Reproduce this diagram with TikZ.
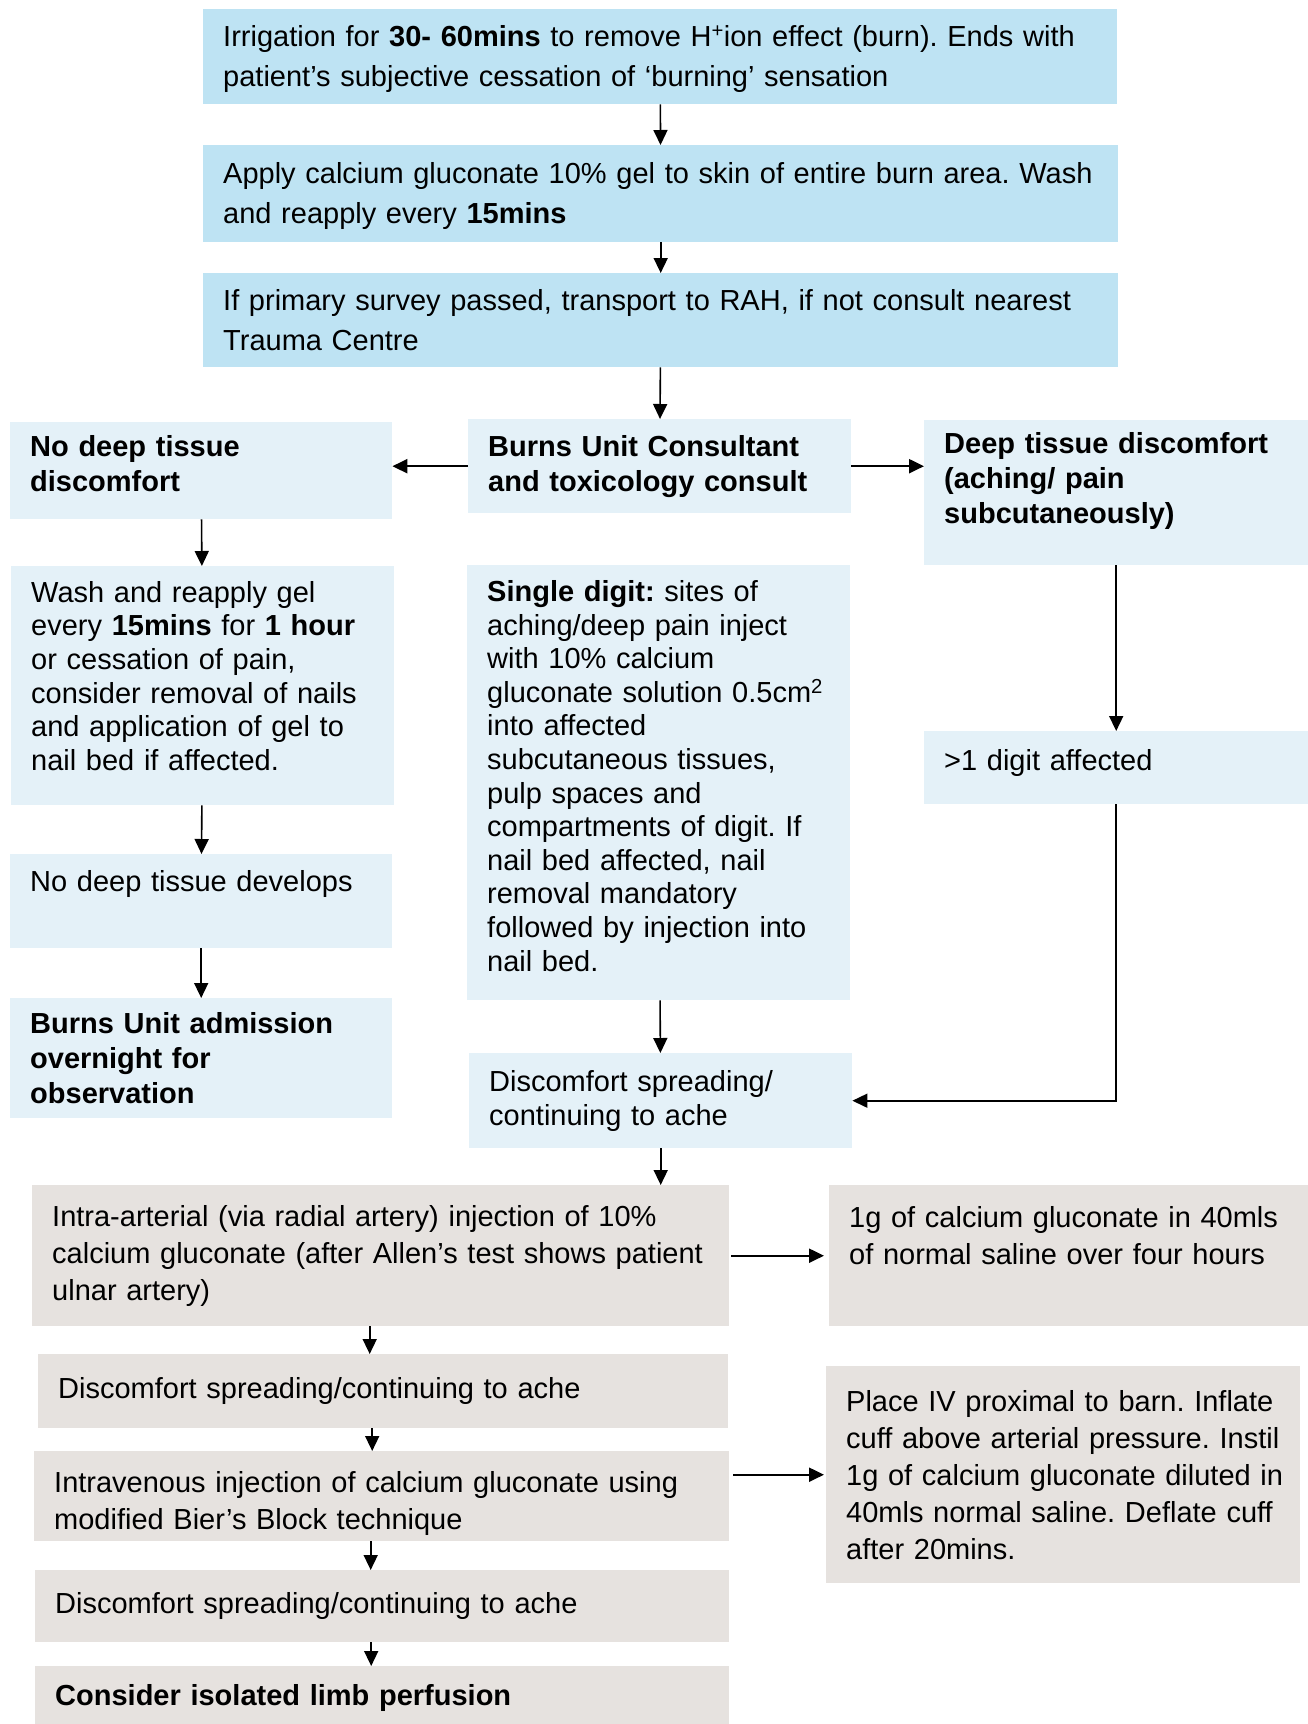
\documentclass[tikz,border=0pt]{standalone}
\usepackage{fontspec}
\setmainfont{Liberation Sans}
\usetikzlibrary{arrows.meta}
\definecolor{topblue}{RGB}{190,227,243}
\definecolor{midblue}{RGB}{228,241,248}
\definecolor{lowgrey}{RGB}{230,226,223}

\begin{document}
\begin{tikzpicture}[x=1pt, y=-1pt,
  box/.style = {anchor=north west, inner xsep=20pt, inner ysep=0pt, align=left,
    execute at begin node={\frenchspacing\hyphenpenalty=10000\rightskip=-40pt plus 1fil}},
  topbox/.style = {box, fill=topblue, font=\fontsize{29}{39.6}\selectfont},
  midbox/.style = {box, fill=midblue, font=\fontsize{29}{33.6}\selectfont},
  headbox/.style = {midbox, font=\fontsize{29}{35.2}\selectfont\bfseries},
  lowbox/.style = {box, fill=lowgrey, font=\fontsize{29}{37}\selectfont},
  arr/.style = {-{Triangle[length=15pt, width=14pt]}, line width=1.6pt},
  thickarr/.style = {arr, line width=2.2pt}]
\useasboundingbox (0,0) rectangle (1308,1724);

% first steps
\node[topbox, text width=874pt, minimum height=95pt] (irrig) at (203,9)
  {\rule{0pt}{26pt}Irrigation for \textbf{30- 60mins} to remove H\textsuperscript{+}ion effect (burn). Ends with\\
   patient’s subjective cessation of ‘burning’ sensation};
\node[topbox, text width=875pt, minimum height=97pt] (gel) at (203,145)
  {\rule{0pt}{26pt}Apply calcium gluconate 10\% gel to skin of entire burn area. Wash\\
   and reapply every \textbf{15mins}};
\node[topbox, text width=875pt, minimum height=94pt] (survey) at (203,273)
  {If primary survey passed, transport to RAH, if not consult nearest\\
   Trauma Centre};

% consult and the three columns
\node[headbox, text width=343pt, minimum height=94pt] (consult) at (468,419)
  {Burns Unit Consultant\\ and toxicology consult};
\node[headbox, text width=342pt, minimum height=97pt] (nodeep) at (10,422)
  {No deep tissue\\ discomfort\rule[-14pt]{0pt}{14pt}};
\node[headbox, text width=344pt, minimum height=145pt] (deep) at (924,420)
  {Deep tissue discomfort\\ (aching/ pain\\ subcutaneously)\rule[-29pt]{0pt}{29pt}};
\node[midbox, text width=343pt, minimum height=239pt] (wash) at (11,566)
  {Wash and reapply gel\\ every \textbf{15mins} for \textbf{1 hour}\\
   or cessation of pain,\\ consider removal of nails\\
   and application of gel to\\ nail bed if affected.\rule[-20pt]{0pt}{20pt}};
\node[midbox, text width=343pt, minimum height=435pt] (single) at (467,565)
  {\textbf{Single digit:} sites of\\ aching/deep pain inject\\ with 10\% calcium\\
   gluconate solution 0.5cm\textsuperscript{2}\\ into affected\\
   subcutaneous tissues,\\ pulp spaces and\\ compartments of digit. If\\
   nail bed affected, nail\\ removal mandatory\\ followed by injection into\\
   nail bed.\rule[-14pt]{0pt}{14pt}};
\node[midbox, text width=344pt, minimum height=73pt] (more) at (924,731)
  {>1 digit affected\rule[-16pt]{0pt}{16pt}};
\node[midbox, text width=342pt, minimum height=94pt] (develop) at (10,854)
  {No deep tissue develops\rule[-40pt]{0pt}{40pt}};
\node[headbox, text width=342pt, minimum height=120pt] (admit) at (10,998)
  {Burns Unit admission\\ overnight for\\ observation};
\node[midbox, text width=343pt, minimum height=95pt] (spread1) at (469,1053)
  {Discomfort spreading/\\ continuing to ache};

% injections
\node[lowbox, text width=657pt, minimum height=141pt] (intra) at (32,1185)
  {Intra-arterial (via radial artery) injection of 10\%\\
   calcium gluconate (after Allen’s test shows patient\\ ulnar artery)};
\node[lowbox, text width=439pt, minimum height=141pt] (gram) at (829,1185)
  {1g of calcium gluconate in 40mls\\
   of normal saline over four hours\rule[-41pt]{0pt}{41pt}};
\node[lowbox, text width=650pt, minimum height=74pt] (spread2) at (38,1354)
  {Discomfort spreading/continuing to ache};
\node[lowbox, text width=655pt, minimum height=90pt] (iv) at (34,1451)
  {\rule{0pt}{36pt}Intravenous injection of calcium gluconate using\\
   modified Bier’s Block technique};
\node[lowbox, text width=434pt, minimum height=217pt] (place) at (826,1366)
  {Place IV proximal to barn. Inflate\\ cuff above arterial pressure. Instil\\
   1g of calcium gluconate diluted in\\ 40mls normal saline. Deflate cuff\\
   after 20mins.};
\node[lowbox, text width=654pt, minimum height=72pt] (spread3) at (35,1570)
  {Discomfort spreading/continuing to ache};
\node[lowbox, text width=654pt, minimum height=58pt] (consider) at (35,1666)
  {\rule{0pt}{27pt}\textbf{Consider isolated limb perfusion}};

% connectors
\draw[arr] (irrig) -- (gel);
\draw[arr] (gel) -- (survey);
\draw[arr] (survey) -- (consult);
\draw[thickarr] (consult.west) -- (consult.west -| nodeep.east);
\draw[thickarr] (consult.east) -- (consult.east -| deep.west);
\draw[arr] (nodeep) -- (wash);
\draw[arr] (wash) -- (develop);
\draw[arr] (develop) -- (admit);
\draw[arr] (deep) -- (more);
\draw[arr] (single) -- (spread1);
\draw[arr] (more.south) |- (spread1.east);
\draw[arr] (spread1.south) -- (spread1.south |- intra.north);
\draw[thickarr, shorten <=2pt, shorten >=5pt] (intra.east) -- (intra.east -| gram.west);
\draw[arr] ([xshift=-11pt]intra.south) -- ([xshift=-11pt]intra.south |- spread2.north);
\draw[arr] ([xshift=-11pt]spread2.south) -- ([xshift=-11pt]spread2.south |- iv.north);
\draw[thickarr, shorten <=4pt, shorten >=2pt] (iv.east |- place.west) -- (place.west);
\draw[arr] ([xshift=-11pt]iv.south) -- ([xshift=-11pt]iv.south |- spread3.north);
\draw[arr] ([xshift=-11pt]spread3.south) -- ([xshift=-11pt]spread3.south |- consider.north);
\end{tikzpicture}
\end{document}
